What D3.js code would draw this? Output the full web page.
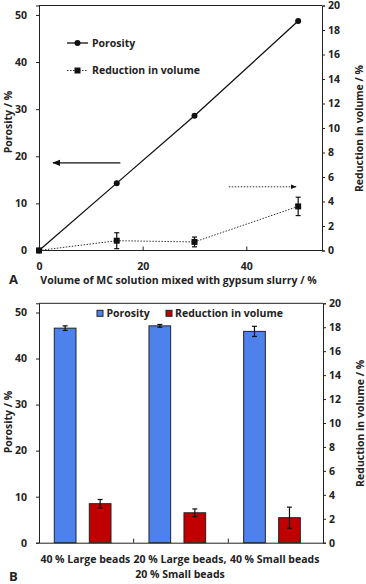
<!DOCTYPE html>
<meta charset="utf-8">
<script src="https://d3js.org/d3.v7.min.js"></script>
<style>
    body { margin: 0; background: #fff; }
    text { font-family: 'Open Sans', sans-serif; font-weight: bold; fill: #222; }
    .tick text { font-size: 10.5px; }
    .domain, .tick line { stroke: #222; }
</style>
<div id="chart"></div>
<script>
    // panel A data
    const volumeMC = [0, 15, 30, 50];
    const porosityA = [0, 14.3, 28.6, 48.7];
    const reductionA = [0, 0.8, 0.7, 3.6];
    const reductionAErr = [0, 0.65, 0.4, 0.75];

    // panel B data
    const categoriesB = [["40 % Large beads"], ["20 % Large beads,", "20 % Small beads"], ["40 % Small beads"]];
    const seriesB = ["Porosity", "Reduction in volume"];
    const porosityB = [46.6, 47.1, 45.9];
    const porosityBErr = [0.5, 0.3, 1.1];
    const reductionB = [3.26, 2.5, 2.09];
    const reductionBErr = [0.35, 0.32, 0.88];

    const leftTicks = [0, 10, 20, 30, 40, 50];
    const rightTicks = [0, 2, 4, 6, 8, 10, 12, 14, 16, 18, 20];
    const xTicksA = [0, 20, 40];

    const blue = "#4d82ec", red = "#c00000";
    const fs = "10.5px";

    let svg = d3.select("#chart").append("svg")
        .attr("width", 366)
        .attr("height", 584);

    // shared axis bits
    function drawAxes(g, yL, yR, width, height, leftTitleY, rightTitleY) {
        g.append("g")
            .call(d3.axisLeft(yL).tickValues(leftTicks).tickSize(3).tickPadding(9));
        g.append("g")
            .attr("transform", "translate(" + width + ",0)")
            .call(d3.axisRight(yR).tickValues(rightTicks).tickSize(3).tickPadding(3));
        // frame top
        g.append("line").attr("x1", 0).attr("x2", width).attr("y1", 0).attr("y2", 0)
            .attr("stroke", "#222");
        g.append("text")
            .attr("transform", "translate(-31," + leftTitleY + ") rotate(-90)")
            .attr("text-anchor", "middle")
            .attr("dy", "0.35em")
            .style("font-size", fs)
            .text("Porosity / %");
        g.append("text")
            .attr("transform", "translate(" + (width + 37) + "," + rightTitleY + ") rotate(-90)")
            .attr("text-anchor", "middle")
            .attr("dy", "0.35em")
            .style("font-size", fs)
            .text("Reduction in volume / %");
    }

    // ---------- Panel A ----------
    let mA = {left: 39, top: 5.5}, wA = 283, hA = 245;
    let gA = svg.append("g").attr("transform", "translate(" + mA.left + "," + mA.top + ")");

    let xA = d3.scaleLinear().domain([0, 54.6]).range([0, wA]);
    let yLA = d3.scaleLinear().domain([0, 52]).range([hA, 0]);
    let yRA = d3.scaleLinear().domain([0, 20]).range([hA, 0]);

    drawAxes(gA, yLA, yRA, wA, hA, 116.5, 123);

    let xAxisA = gA.append("g")
        .attr("transform", "translate(0," + hA + ")")
        .call(d3.axisBottom(xA).tickValues(xTicksA).tickSizeInner(-4).tickSizeOuter(0).tickPadding(12));
    xAxisA.select(".domain").attr("d", "M0,0H" + wA);

    gA.append("text")
        .attr("x", wA / 2 - 2).attr("y", hA + 33.5)
        .attr("text-anchor", "middle")
        .style("font-size", fs)
        .text("Volume of MC solution mixed with gypsum slurry / %");

    // porosity line
    let porPts = volumeMC.map((v, i) => [xA(v), yLA(porosityA[i])]);
    gA.append("path")
        .attr("d", d3.line()(porPts))
        .attr("fill", "none").attr("stroke", "#111").attr("stroke-width", 1.3);
    gA.selectAll(".pm").data(porPts).enter().append("circle")
        .attr("cx", d => d[0]).attr("cy", d => d[1]).attr("r", 3).attr("fill", "#111");

    // reduction line
    let redPts = volumeMC.map((v, i) => [xA(v), yRA(reductionA[i]), reductionAErr[i]]);
    gA.append("path")
        .attr("d", d3.line()(redPts.map(d => [d[0], d[1]])))
        .attr("fill", "none").attr("stroke", "#333").attr("stroke-width", 1)
        .attr("stroke-dasharray", "1.5,1.5");
    redPts.forEach(function (d, i) {
        if (reductionAErr[i] > 0) {
            let lo = yRA(Math.max(0, reductionA[i] - reductionAErr[i])), hi = yRA(reductionA[i] + reductionAErr[i]);
            gA.append("line").attr("x1", d[0]).attr("x2", d[0]).attr("y1", lo).attr("y2", hi)
                .attr("stroke", "#111").attr("stroke-width", 1.2);
            [lo, hi].forEach(yy => gA.append("line").attr("x1", d[0] - 2.5).attr("x2", d[0] + 2.5)
                .attr("y1", yy).attr("y2", yy).attr("stroke", "#111").attr("stroke-width", 1.2));
        }
    });
    gA.selectAll(".rm").data(redPts).enter().append("rect")
        .attr("x", d => d[0] - 3).attr("y", d => d[1] - 3).attr("width", 6).attr("height", 6)
        .attr("fill", "#111");

    // legend A
    let legA = gA.append("g");
    legA.append("line").attr("x1", 28).attr("x2", 49).attr("y1", 37.5).attr("y2", 37.5)
        .attr("stroke", "#111").attr("stroke-width", 1.3);
    legA.append("circle").attr("cx", 38.5).attr("cy", 37.5).attr("r", 3).attr("fill", "#111");
    legA.append("text").attr("x", 53).attr("y", 37.5).attr("dy", "0.35em").style("font-size", fs).text("Porosity");
    legA.append("line").attr("x1", 28).attr("x2", 49).attr("y1", 65).attr("y2", 65)
        .attr("stroke", "#333").attr("stroke-width", 1).attr("stroke-dasharray", "1.5,1.5");
    legA.append("rect").attr("x", 35.5).attr("y", 62).attr("width", 6).attr("height", 6).attr("fill", "#111");
    legA.append("text").attr("x", 53).attr("y", 65).attr("dy", "0.35em").style("font-size", fs).text("Reduction in volume");

    // arrows
    svg.append("defs").append("marker")
        .attr("id", "head").attr("viewBox", "0 0 10 10").attr("refX", 9).attr("refY", 5)
        .attr("markerWidth", 6).attr("markerHeight", 6).attr("orient", "auto-start-reverse")
        .append("path").attr("d", "M0,1L10,5L0,9Z").attr("fill", "#111");
    gA.append("line").attr("x1", xA(15.7)).attr("x2", xA(2.7)).attr("y1", yLA(18.6)).attr("y2", yLA(18.6))
        .attr("stroke", "#111").attr("stroke-width", 1.3).attr("marker-end", "url(#head)");
    gA.append("line").attr("x1", xA(36.6)).attr("x2", xA(49.6)).attr("y1", yRA(5.2)).attr("y2", yRA(5.2))
        .attr("stroke", "#333").attr("stroke-width", 1).attr("stroke-dasharray", "1.5,1.5")
        .attr("marker-end", "url(#head)");

    svg.append("text").attr("x", 9).attr("y", 284).style("font-size", "13px").text("A");

    // ---------- Panel B ----------
    let mB = {left: 39, top: 303.3}, wB = 284, hB = 239.4;
    let gB = svg.append("g").attr("transform", "translate(" + mB.left + "," + mB.top + ")");

    let xB = d3.scaleBand().domain(d3.range(categoriesB.length)).range([0, wB]);
    let xSub = d3.scaleBand().domain(seriesB).range([15.3, 72]).paddingInner(0.38);
    let yLB = d3.scaleLinear().domain([0, 52]).range([hB, 0]);
    let yRB = d3.scaleLinear().domain([0, 20]).range([hB, 0]);

    drawAxes(gB, yLB, yRB, wB, hB, 118.7, 120);

    let xAxisB = gB.append("g")
        .attr("transform", "translate(0," + hB + ")")
        .call(d3.axisBottom(xB).tickSizeInner(0).tickSizeOuter(0).tickFormat(""));
    xAxisB.selectAll(".tick").remove();
    [1, 2].forEach(i => xAxisB.append("line").attr("x1", xB(i)).attr("x2", xB(i))
        .attr("y1", 0).attr("y2", -4).attr("stroke", "#222"));

    categoriesB.forEach(function (lines, i) {
        let t = gB.append("text")
            .attr("x", xB(i) + xB.bandwidth() / 2 - 1)
            .attr("y", hB + 20)
            .attr("text-anchor", "middle")
            .style("font-size", fs);
        lines.forEach((l, j) => t.append("tspan")
            .attr("x", xB(i) + xB.bandwidth() / 2 - 1)
            .attr("dy", j === 0 ? 0 : 15).text(l));
    });

    function errBar(g, cx, lo, hi) {
        g.append("line").attr("x1", cx).attr("x2", cx).attr("y1", lo).attr("y2", hi)
            .attr("stroke", "#111").attr("stroke-width", 1.2);
        [lo, hi].forEach(yy => g.append("line").attr("x1", cx - 2.5).attr("x2", cx + 2.5)
            .attr("y1", yy).attr("y2", yy).attr("stroke", "#111").attr("stroke-width", 1.2));
    }

    categoriesB.forEach(function (c, i) {
        let bx = xB(i) + xSub("Porosity");
        gB.append("rect")
            .attr("x", bx).attr("y", yLB(porosityB[i]))
            .attr("width", xSub.bandwidth()).attr("height", hB - yLB(porosityB[i]))
            .attr("fill", blue).attr("stroke", "#222").attr("stroke-width", 1);
        errBar(gB, bx + xSub.bandwidth() / 2,
            yLB(porosityB[i] - porosityBErr[i]), yLB(porosityB[i] + porosityBErr[i]));

        let rx = xB(i) + xSub("Reduction in volume");
        gB.append("rect")
            .attr("x", rx).attr("y", yRB(reductionB[i]))
            .attr("width", xSub.bandwidth()).attr("height", hB - yRB(reductionB[i]))
            .attr("fill", red).attr("stroke", "#222").attr("stroke-width", 1);
        errBar(gB, rx + xSub.bandwidth() / 2,
            yRB(reductionB[i] - reductionBErr[i]), yRB(reductionB[i] + reductionBErr[i]));
    });

    // legend B
    let legB = gB.append("g");
    legB.append("rect").attr("x", 58).attr("y", 7).attr("width", 6).attr("height", 6)
        .attr("fill", blue).attr("stroke", "#222");
    legB.append("text").attr("x", 67.5).attr("y", 10).attr("dy", "0.35em").style("font-size", fs).text("Porosity");
    legB.append("rect").attr("x", 127).attr("y", 7).attr("width", 6).attr("height", 6)
        .attr("fill", red).attr("stroke", "#222");
    legB.append("text").attr("x", 136).attr("y", 10).attr("dy", "0.35em").style("font-size", fs).text("Reduction in volume");

    svg.append("text").attr("x", 9).attr("y", 581).style("font-size", "13px").text("B");
</script>
